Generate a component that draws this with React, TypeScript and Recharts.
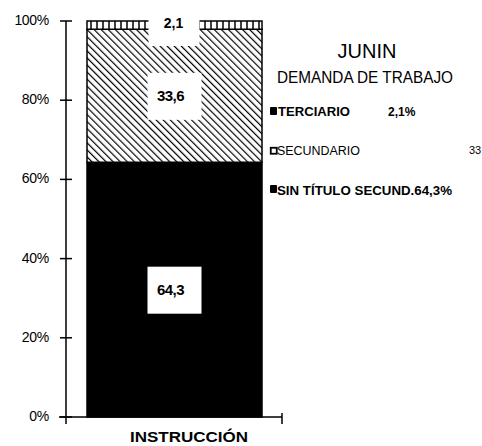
import React from 'react';
import { BarChart, Bar, XAxis, YAxis, LabelList, ReferenceLine } from 'recharts';

const categories = ['INSTRUCCIÓN'];
const sinTitulo = [64.3];
const secundario = [33.6];
const terciario = [2.1];
const yTicks = [0, 20, 40, 60, 80, 100];
const titleText = 'JUNIN';
const subtitleText = 'DEMANDA DE TRABAJO';
const legendNames = ['TERCIARIO', 'SECUNDARIO', 'SIN TÍTULO SECUND.'];
const legendValues = ['2,1%', '33', '64,3%'];

const data = categories.map((c, i) => ({
  name: c,
  sinTitulo: sinTitulo[i],
  secundario: secundario[i],
  terciario: terciario[i],
}));

const FONT = '"Liberation Sans", Arial, Helvetica, sans-serif';
const fmt = (v: number) => String(v).replace('.', ',');

const YTick = (props: any) => {
  const { x, y, payload } = props;
  return (
    <g>
      <line x1={x - 6} x2={x + 6} y1={y} y2={y} stroke="#000" strokeWidth={1.5} />
      <text x={x - 17} y={y} dy={4} textAnchor="end" fontFamily={FONT} fontSize={14} letterSpacing={-0.3} fill="#000">
        {payload.value}%
      </text>
    </g>
  );
};

const makeLabel = (kind: 'top' | 'mid') => (props: any) => {
  const vb = props.viewBox || {};
  const x = props.x ?? vb.x;
  const y = props.y ?? vb.y;
  const width = props.width ?? vb.width;
  const height = props.height ?? vb.height;
  const cx = x + width / 2;
  if (kind === 'top') {
    return (
      <g>
        <rect x={cx - 26} y={y - 7} width={51} height={32} fill="#fff" />
        <text x={cx - 1} y={y + 7} textAnchor="middle" fontFamily={FONT} fontWeight="bold" fontSize={14} fill="#000">
          {fmt(props.value)}
        </text>
      </g>
    );
  }
  const cy = y + height / 2;
  return (
    <g>
      <rect x={cx - 27} y={cy - 23} width={54} height={47} fill="#fff" />
      <text x={cx - 4} y={cy} dy={5} textAnchor="middle" fontFamily={FONT} fontWeight="bold" fontSize={15} letterSpacing={-0.5} fill="#000">
        {fmt(props.value)}
      </text>
    </g>
  );
};

const AxisBase = (props: any) => {
  const { x1, y1, x2 } = props;
  return (
    <g>
      <line x1={x1 - 7} x2={x2} y1={y1} y2={y1} stroke="#000" strokeWidth={1.5} />
      <line x1={x1} x2={x1} y1={y1} y2={y1 + 7} stroke="#000" strokeWidth={1.5} />
      <line x1={x2} x2={x2} y1={y1 - 4} y2={y1 + 7} stroke="#000" strokeWidth={1.5} />
    </g>
  );
};

export default function App() {
  return (
    <div style={{ position: 'fixed', left: 0, top: 0, width: 482, height: 446, background: '#fff', overflow: 'hidden' }}>
      <BarChart width={482} height={446} data={data} margin={{ top: 21, right: 200, bottom: 29, left: 0 }}>
        <defs>
          <pattern id="hatch" patternUnits="userSpaceOnUse" width={5} height={5} patternTransform="rotate(-45)">
            <rect width={5} height={5} fill="#fff" />
            <line x1={0} y1={0} x2={0} y2={5} stroke="#000" strokeWidth={2.4} />
          </pattern>
          <pattern id="ladder" patternUnits="userSpaceOnUse" width={6} height={10}>
            <rect width={6} height={10} fill="#fff" />
            <line x1={1} y1={0} x2={1} y2={10} stroke="#000" strokeWidth={1.5} />
          </pattern>
        </defs>
        <XAxis dataKey="name" hide />
        <YAxis
          domain={[0, 100]}
          ticks={yTicks}
          width={66}
          tickSize={0}
          tickMargin={0}
          tickLine={false}
          axisLine={{ stroke: '#000', strokeWidth: 1.5 }}
          tick={<YTick />}
          interval={0}
        />
        <Bar dataKey="sinTitulo" stackId="a" fill="#000" stroke="#000" strokeWidth={1.5} barSize={175} isAnimationActive={false}>
          <LabelList dataKey="sinTitulo" content={makeLabel('mid')} />
        </Bar>
        <Bar dataKey="secundario" stackId="a" fill="url(#hatch)" stroke="#000" strokeWidth={1.5} barSize={175} isAnimationActive={false}>
          <LabelList dataKey="secundario" content={makeLabel('mid')} />
        </Bar>
        <Bar dataKey="terciario" stackId="a" fill="url(#ladder)" stroke="#000" strokeWidth={1.5} barSize={175} isAnimationActive={false}>
          <LabelList dataKey="terciario" content={makeLabel('top')} />
        </Bar>
        <ReferenceLine y={0} shape={<AxisBase />} />
      </BarChart>
      <svg width={482} height={446} style={{ position: 'absolute', left: 0, top: 0, pointerEvents: 'none' }}>
        <text x={367} y={58} textAnchor="middle" fontFamily={FONT} fontSize={20} fill="#000">{titleText}</text>
        <text x={277} y={83} fontFamily={FONT} fontSize={16} textLength={176} lengthAdjust="spacingAndGlyphs" fill="#000">{subtitleText}</text>

        <rect x={270} y={107} width={7} height={8} rx={1} fill="#000" />
        <text x={278} y={116} fontFamily={FONT} fontWeight="bold" fontSize={12} textLength={72} lengthAdjust="spacingAndGlyphs" fill="#000">{legendNames[0]}</text>
        <text x={388} y={116} fontFamily={FONT} fontWeight="bold" fontSize={12} fill="#000">{legendValues[0]}</text>

        <rect x={270.75} y={147.75} width={6} height={6} fill="#fff" stroke="#000" strokeWidth={1.8} />
        <text x={277} y={155} fontFamily={FONT} fontSize={12} textLength={83} lengthAdjust="spacingAndGlyphs" fill="#000">{legendNames[1]}</text>
        <text x={469} y={154} fontFamily={FONT} fontSize={11} fill="#000">{legendValues[1]}</text>

        <rect x={270} y={185} width={7} height={8} rx={1} fill="#000" />
        <text x={277} y={195} fontFamily={FONT} fontWeight="bold" fontSize={12} textLength={175} lengthAdjust="spacingAndGlyphs" fill="#000">{legendNames[2] + legendValues[2]}</text>

        <text x={130} y={442} fontFamily={FONT} fontWeight="bold" fontSize={15} textLength={118} lengthAdjust="spacingAndGlyphs" fill="#000">{categories[0]}</text>
      </svg>
    </div>
  );
}
